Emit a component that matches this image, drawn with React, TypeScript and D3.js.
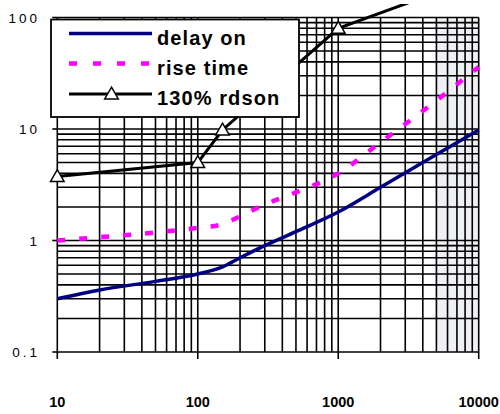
import React, { useEffect, useRef } from "react";
import * as d3 from "d3";

// x values (log axis)
const delayX = [10, 20, 50, 100, 150, 200, 300, 500, 1000, 2000, 5000, 10000];
const delayOn = [0.3, 0.36, 0.43, 0.5, 0.58, 0.7, 0.9, 1.2, 1.8, 3.0, 5.9, 9.8];

const riseX = [10, 20, 50, 100, 150, 200, 300, 500, 1000, 2000, 5000, 10000];
const riseTime = [1.0, 1.07, 1.18, 1.3, 1.4, 1.65, 2.1, 2.7, 4.0, 7.6, 18, 36];

const rdsonX = [10, 100, 150, 1000, 10000];
const rdson130 = [3.75, 5.0, 9.8, 80, 230];

const xTicks = [10, 100, 1000, 10000];
const yTicks = [0.1, 1, 10, 100];
const yTickLabels = ["0.1", "1", "10", "100"];

const legendNames = ["delay on", "rise time", "130% rdson"];

const FONT = "'Liberation Sans', Arial, sans-serif";

function Chart() {
    const ref = useRef<SVGSVGElement | null>(null);

    useEffect(() => {
        drawChart();
    }, []);

    const drawChart = () => {
        const width = 500;
        const height = 414;
        const svg = d3.select(ref.current);
        svg.selectAll("*").remove();

        const x = d3.scaleLog().domain([10, 10000]).range([57.3, 478.7]);
        const y = d3.scaleLog().domain([0.1, 100]).range([352, 17.5]);

        svg.append("rect").attr("width", width).attr("height", height).attr("fill", "white");

        // clip for the series (chart area)
        svg.append("clipPath").attr("id", "chartArea")
            .append("rect").attr("x", 0).attr("y", 4).attr("width", width).attr("height", 360);

        // light band at the right end
        svg.append("rect")
            .attr("x", x(5000))
            .attr("y", y(100))
            .attr("width", x(10000) - x(5000))
            .attr("height", y(0.1) - y(100))
            .attr("fill", "#eff0f3");

        // grid lines
        const minorX: number[] = [];
        [10, 100, 1000].forEach(b => d3.range(1, 10).forEach(d => minorX.push(b * d)));
        minorX.push(10000);
        const minorY: number[] = [];
        [0.1, 1, 10].forEach(b => d3.range(1, 10).forEach(d => minorY.push(b * d)));
        minorY.push(100);

        const grid = svg.append("g").attr("stroke", "#000").attr("stroke-width", 1.6);
        grid.selectAll("line.v").data(minorX).join("line")
            .attr("class", "v")
            .attr("x1", d => x(d)).attr("x2", d => x(d))
            .attr("y1", y(100)).attr("y2", y(0.1));
        grid.selectAll("line.h").data(minorY).join("line")
            .attr("class", "h")
            .attr("x1", x(10)).attr("x2", x(10000))
            .attr("y1", d => y(d)).attr("y2", d => y(d));

        // axes ticks
        const axes = svg.append("g").attr("stroke", "#000").attr("stroke-width", 1.6);
        axes.selectAll("line.yt").data(yTicks).join("line")
            .attr("x1", x(10) - 5).attr("x2", x(10))
            .attr("y1", d => y(d)).attr("y2", d => y(d));
        axes.selectAll("line.xt").data(xTicks).join("line")
            .attr("x1", d => x(d)).attr("x2", d => x(d))
            .attr("y1", y(0.1)).attr("y2", y(0.1) + 7);

        // y labels
        svg.append("g").selectAll("text").data(yTicks).join("text")
            .attr("x", 40)
            .attr("y", d => y(d) + 5)
            .attr("text-anchor", "end")
            .attr("font-family", FONT)
            .attr("font-size", 13.5)
            .attr("letter-spacing", 3)
            .text((_, i) => yTickLabels[i]);

        // x labels
        svg.append("g").selectAll("text").data(xTicks).join("text")
            .attr("x", d => x(d))
            .attr("y", 406.5)
            .attr("text-anchor", "middle")
            .attr("font-family", FONT)
            .attr("font-weight", "bold")
            .attr("font-size", 14.5)
            .text(d => String(d));

        const series = svg.append("g").attr("clip-path", "url(#chartArea)");

        // delay on
        const delayLine = d3.line<number>()
            .x((_, i) => x(delayX[i]))
            .y(d => y(d))
            .curve(d3.curveMonotoneX);
        series.append("path")
            .datum(delayOn)
            .attr("fill", "none")
            .attr("stroke", "#000080")
            .attr("stroke-width", 3.5)
            .attr("d", delayLine);

        // rise time
        const riseLine = d3.line<number>()
            .x((_, i) => x(riseX[i]))
            .y(d => y(d))
            .curve(d3.curveMonotoneX);
        series.append("path")
            .datum(riseTime)
            .attr("fill", "none")
            .attr("stroke", "#ff00ff")
            .attr("stroke-width", 4.5)
            .attr("stroke-dasharray", "8,14")
            .attr("d", riseLine);

        // 130% rdson
        const rdsonLine = d3.line<number>()
            .x((_, i) => x(rdsonX[i]))
            .y(d => y(d));
        series.append("path")
            .datum(rdson130)
            .attr("fill", "none")
            .attr("stroke", "#000")
            .attr("stroke-width", 3)
            .attr("d", rdsonLine);

        const tri = d3.symbol().type(d3.symbolTriangle).size(80);
        series.selectAll("path.mk").data(rdson130).join("path")
            .attr("class", "mk")
            .attr("transform", (d, i) => `translate(${x(rdsonX[i])},${y(d) + 1})`)
            .attr("d", tri)
            .attr("fill", "white")
            .attr("stroke", "#000")
            .attr("stroke-width", 1.5);

        // legend
        const lg = svg.append("g");
        lg.append("rect")
            .attr("x", 51).attr("y", 19.5)
            .attr("width", 248).attr("height", 97.5)
            .attr("fill", "white")
            .attr("stroke", "#000")
            .attr("stroke-width", 1.8);

        const rowY = [33.5, 63.5, 94];
        lg.append("line").attr("x1", 69).attr("x2", 152).attr("y1", rowY[0]).attr("y2", rowY[0])
            .attr("stroke", "#000080").attr("stroke-width", 3.5);
        lg.append("line").attr("x1", 69).attr("x2", 152).attr("y1", rowY[1]).attr("y2", rowY[1])
            .attr("stroke", "#ff00ff").attr("stroke-width", 4.5).attr("stroke-dasharray", "8,16");
        lg.append("line").attr("x1", 69).attr("x2", 152).attr("y1", rowY[2]).attr("y2", rowY[2])
            .attr("stroke", "#000").attr("stroke-width", 3);
        lg.append("path")
            .attr("transform", `translate(111.5,${rowY[2] + 1})`)
            .attr("d", tri)
            .attr("fill", "white")
            .attr("stroke", "#000")
            .attr("stroke-width", 1.5);

        lg.selectAll("text").data(legendNames).join("text")
            .attr("x", 157)
            .attr("y", (_, i) => rowY[i] + 11)
            .attr("font-family", FONT)
            .attr("font-weight", "bold")
            .attr("font-size", 20)
            .attr("letter-spacing", 1.1)
            .text(d => d);
    };

    return (
        <svg ref={ref} width={500} height={414}
            style={{ position: "absolute", left: 0, top: 0, display: "block" }} />
    );
}

export default function App() {
    return <Chart />;
}
